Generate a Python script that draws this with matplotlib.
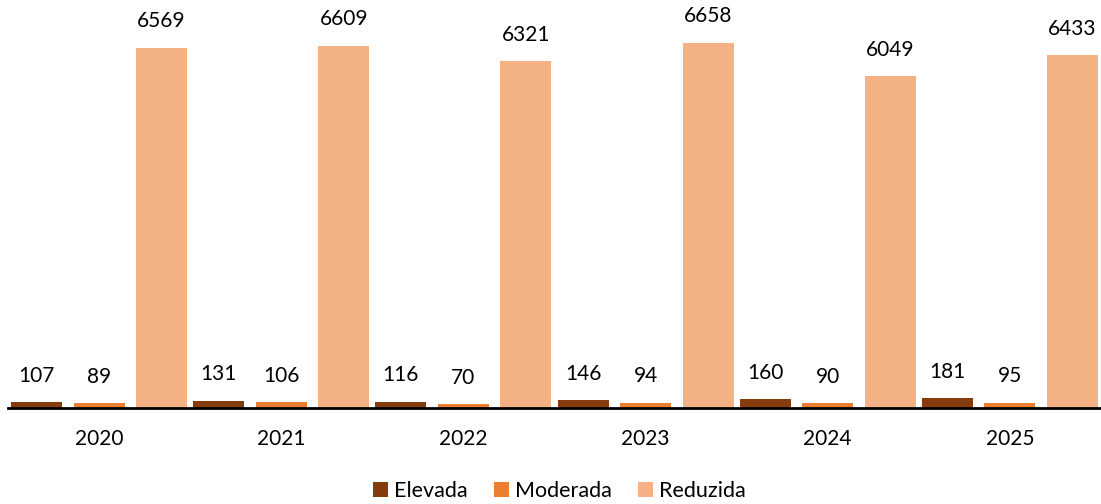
import numpy as np
import matplotlib
matplotlib.use("Agg")
import matplotlib.pyplot as plt

years = ["2020", "2021", "2022", "2023", "2024", "2025"]
elevada = [107, 131, 116, 146, 160, 181]
moderada = [89, 106, 70, 94, 90, 95]
reduzida = [6569, 6609, 6321, 6658, 6049, 6433]

series = [("Elevada", elevada, "#843C0C"),
          ("Moderada", moderada, "#ED7D31"),
          ("Reduzida", reduzida, "#F4B183")]

plt.rcParams["font.family"] = ["Lato", "DejaVu Sans"]

fig = plt.figure(figsize=(11.01, 5.04), dpi=100)
ax = fig.add_axes([8 / 1101, 96 / 504, 1093 / 1101, 408 / 504])

x = np.arange(len(years))
w = 0.28
offs = [-0.343, 0.0, 0.343]
for (name, vals, col), off in zip(series, offs):
    bars = ax.bar(x + off, vals, w, color=col, label=name)
    for b, v in zip(bars, vals):
        ax.annotate(str(v), (b.get_x() + b.get_width() / 2, v),
                    xytext=(0, 19), textcoords="offset points",
                    ha="center", va="center", fontsize=15, color="black")

ax.set_xlim(-0.5, len(years) - 0.5)
ax.set_ylim(0, 7440)
ax.set_xticks(x)
ax.set_xticklabels(years, fontsize=15)
ax.tick_params(axis="x", length=0, pad=15)
ax.set_yticks([])
for s in ["top", "right", "left"]:
    ax.spines[s].set_visible(False)
ax.spines["bottom"].set_linewidth(2)
ax.spines["bottom"].set_color("black")

fig.legend(loc="center", bbox_to_anchor=(0.508, 0.025), ncol=3, frameon=False,
           fontsize=15.5, handlelength=0.7, handleheight=0.7, handletextpad=0.3,
           columnspacing=1.2)

fig.savefig("out.png", dpi=100)
